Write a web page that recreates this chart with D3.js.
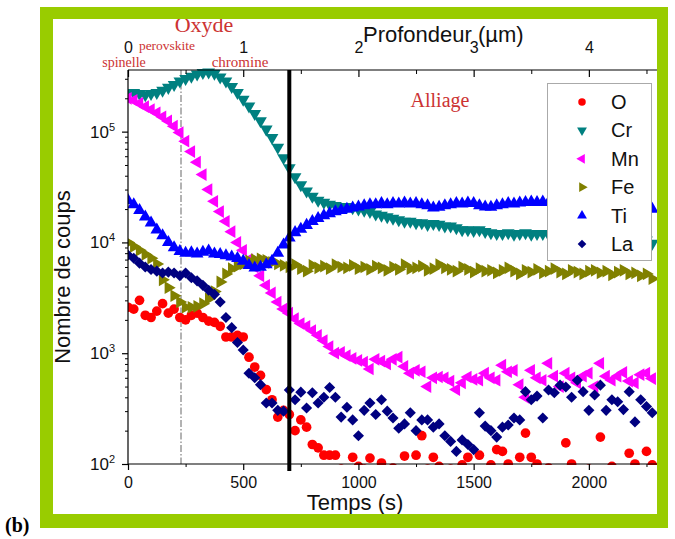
<!DOCTYPE html>
<html><head><meta charset="utf-8">
<script src="https://cdn.jsdelivr.net/npm/d3@7"></script>
<style>body{margin:0;background:#fff}svg{display:block}</style>
</head><body>
<svg id="c" width="675" height="539"></svg>
<script>
const times = [
0,25,50,75,100,125,150,175,200,225,
250,275,300,325,350,375,400,425,450,475,
500,525,550,575,600,625,650,675,700,725,
750,775,800,825,850,875,900,925,950,975,
1000,1025,1050,1075,1100,1125,1150,1175,1200,1225,
1250,1275,1300,1325,1350,1375,1400,1425,1450,1475,
1500,1525,1550,1575,1600,1625,1650,1675,1700,1725,
1750,1775,1800,1825,1850,1875,1900,1925,1950,1975,
2000,2025,2050,2075,2100,2125,2150,2175,2200,2225,
2250,2275];

const O = [
2600,2500,3000,2200,2100,2400,2800,2300,2500,2100,
2000,2200,2300,2100,1950,1900,1750,1400,1400,1450,
1400,920,750,630,470,380,265,305,280,200,
250,215,150,140,120,120,120,90,85,115,
95,90,113,88,102,85,92,80,118,82,
120,180,90,115,95,85,90,88,98,115,
85,120,80,98,135,130,100,85,115,190,
115,100,85,92,80,88,155,100,80,85,
90,80,175,85,95,88,82,125,100,85,
130,98];

const Cr = [
220000,225000,220000,215000,220000,225000,235000,250000,265000,285000,
300000,315000,330000,340000,345000,335000,310000,285000,255000,225000,
195000,170000,145000,125000,105000,88000,72000,58000,47000,39000,
33000,29000,26000,24000,23000,22000,21500,21000,21000,20500,
20000,19500,19000,18000,17500,17000,16500,16000,15500,15500,
15000,15000,14500,14800,14500,14000,14000,13500,13000,13000,
12800,13000,12500,12200,12000,12000,12200,11800,12000,12200,
11800,12000,12000,11800,11500,11800,11500,11300,11500,11200,
11000,11300,11000,10800,11000,10800,10600,10800,10500,10800,
10500,9800];

const Mn = [
200000,192000,180000,168000,158000,148000,136000,125000,112000,98000,
82000,66000,53000,41000,30000,23500,19000,15500,12500,10000,
8500,7000,6000,5000,4100,3500,2900,2500,2300,2050,
1850,1750,1600,1450,1300,1150,1000,1020,950,900,
860,830,720,880,850,800,880,920,760,660,
700,680,500,600,610,600,560,470,540,610,
580,570,660,600,570,780,680,700,520,400,
700,600,570,810,620,500,660,600,540,620,
660,500,810,620,570,620,670,560,540,640,
660,590];

const Fe = [
10000,9200,8500,7800,7200,6400,4600,3900,3300,2900,
2600,2600,2650,2800,3100,3600,4400,5200,5800,6100,
6400,6800,7000,7100,6900,6600,6400,6200,6000,6300,
5800,5500,6200,5900,6100,5800,6300,6000,5900,6200,
5800,6000,5700,6100,5900,5600,6000,5700,6300,5800,
5900,6100,5600,5800,6300,5900,5700,5500,6000,5700,
5400,5800,5500,5600,5300,5600,5900,5500,5200,5600,
5400,5700,5300,5500,5800,5400,5200,5600,5400,5200,
5500,5600,5300,5500,5100,5400,5600,5200,5300,5000,
5200,4700];

const Ti = [
24000,22000,19500,17000,15000,13000,11500,10000,9000,8300,
8000,8100,7900,8200,8400,7900,7800,7600,7400,7200,
6800,6200,5900,6000,6300,6800,8000,9500,11000,12300,
13200,14300,15500,16500,17500,18200,19000,19500,20000,20500,
21000,21500,22000,22000,22500,22000,22500,22300,22800,22300,
22500,22000,21500,20500,20800,21500,22000,22500,22300,22800,
22500,21500,21000,20800,21500,22000,22500,22300,22800,23000,
23200,23000,23300,23000,23000,22800,23000,22700,22500,22700,
22300,22000,22200,21800,21500,21800,21300,21000,21200,20800,
20500,20000];

const La = [
7700,7200,6500,6000,5700,5500,5300,5400,5300,5000,
5300,4800,4500,4100,3700,3400,2900,2100,1700,1250,
1070,660,600,520,355,355,305,300,465,380,
445,320,440,355,400,490,400,265,325,250,
180,305,355,280,380,300,260,210,230,290,
200,250,250,215,230,180,160,130,165,150,
135,290,220,200,175,215,225,260,250,450,
380,410,260,465,440,515,495,400,570,450,
305,420,515,305,380,365,310,450,240,380,
330,290];

const seriesNames = ["O","Cr","Mn","Fe","Ti","La"];
const seriesValues = [O, Cr, Mn, Fe, Ti, La];
const seriesColors = ["#ff0000","#008080","#ff00ff","#808000","#0000ff","#000080"];
const timeTicks = [0,500,1000,1500,2000];
const timeTickLabels = ["0","500","1000","1500","2000"];
const depthTicks = [0,1,2,3,4];
const depthTickLabels = ["0","1","2","3","4"];
const countTicks = [100,1000,10000,100000];
const countTickExp = ["2","3","4","5"];

const svg = d3.select("#c");
const X0 = 128, X1 = 658, YB = 464, YT = 70;
const x = d3.scaleLinear().domain([0,2300]).range([X0,X1]);
const xd = d3.scaleLinear().domain([0,4.6]).range([X0,X1]);
const y = d3.scaleLog().domain([100,360000]).range([YB,YT]);

const sans = "'Liberation Sans', Arial, sans-serif";
const serif = "'Liberation Serif', 'Times New Roman', serif";
const red = "#cc3333";

const shapes = {
  O:  {type: d3.symbolCircle,   size: 74, rot: 0},
  Cr: {type: d3.symbolTriangle, size: 70, rot: 180},
  Mn: {type: d3.symbolTriangle, size: 70, rot: -90},
  Fe: {type: d3.symbolTriangle, size: 70, rot: 90},
  Ti: {type: d3.symbolTriangle, size: 70, rot: 0},
  La: {type: d3.symbolSquare,   size: 62, rot: 45}
};

svg.append("defs").append("clipPath").attr("id","pc")
  .append("rect").attr("x",X0).attr("y",YT-12).attr("width",X1-X0+10).attr("height",YB-YT+13);

svg.append("line").attr("x1",x(230)).attr("x2",x(230)).attr("y1",YT).attr("y2",YB)
  .attr("stroke","#555").attr("stroke-width",0.9).attr("stroke-dasharray","7,2,1.5,2");

const gData = svg.append("g").attr("clip-path","url(#pc)");
seriesNames.forEach((name,si)=>{
  const s = shapes[name];
  const path = d3.symbol().type(s.type).size(s.size)();
  gData.append("g").selectAll("path")
    .data(times.map((t,i)=>({t, v: seriesValues[si][i]})))
    .join("path")
    .attr("d", path)
    .attr("transform", d=>`translate(${x(d.t)},${y(d.v)}) rotate(${s.rot})`)
    .attr("fill", seriesColors[si]);
});

svg.append("line").attr("x1",x(700)).attr("x2",x(700)).attr("y1",YT).attr("y2",YB+7)
  .attr("stroke","#000").attr("stroke-width",4);

const frame = svg.append("g").attr("stroke","#000").attr("stroke-width",1.2);
frame.append("line").attr("x1",X0).attr("x2",X1+5).attr("y1",YT).attr("y2",YT);
frame.append("line").attr("x1",X0).attr("x2",X1+5).attr("y1",YB).attr("y2",YB);
frame.append("line").attr("x1",X0).attr("x2",X0).attr("y1",YT).attr("y2",YB);

const gx = svg.append("g").attr("transform",`translate(0,${YB})`)
  .call(d3.axisBottom(x).tickValues(timeTicks).tickSize(6).tickSizeOuter(0).tickPadding(7)
    .tickFormat((d,i)=>timeTickLabels[i]));
gx.select(".domain").remove();
gx.selectAll("line").attr("stroke-width",1.2);
gx.selectAll("text").attr("font-family",sans).attr("font-size",16).attr("fill","#111");
const gxm = svg.append("g").attr("transform",`translate(0,${YB})`)
  .call(d3.axisBottom(x).tickValues([250,750,1250,1750,2250]).tickSize(3).tickFormat(""));
gxm.select(".domain").remove();

const gt = svg.append("g").attr("transform",`translate(0,${YT})`)
  .call(d3.axisTop(xd).tickValues(depthTicks).tickSize(-7).tickSizeOuter(0).tickPadding(17)
    .tickFormat((d,i)=>depthTickLabels[i]));
gt.select(".domain").remove();
gt.selectAll("line").attr("stroke-width",1.2);
gt.selectAll("text").attr("font-family",sans).attr("font-size",16).attr("fill","#111");
const gtm = svg.append("g").attr("transform",`translate(0,${YT})`)
  .call(d3.axisTop(xd).tickValues([0.5,1.5,2.5,3.5,4.5]).tickSize(-4).tickFormat(""));
gtm.select(".domain").remove();

const gy = svg.append("g").attr("transform",`translate(${X0},0)`)
  .call(d3.axisLeft(y).tickValues(countTicks).tickSize(6).tickSizeOuter(0).tickFormat(""));
gy.select(".domain").remove();
gy.selectAll("line").attr("stroke-width",1.2);
const minor = [];
[100,1000,10000,100000].forEach(b=>{for(let k=2;k<=9;k++){ if(b*k<=360000) minor.push(b*k);} });
const gym = svg.append("g").attr("transform",`translate(${X0},0)`)
  .call(d3.axisLeft(y).tickValues(minor).tickSize(3).tickFormat(""));
gym.select(".domain").remove();
countTicks.forEach((v,i)=>{
  const t = svg.append("text").attr("x",X0-13).attr("y",y(v)+6).attr("text-anchor","end")
    .attr("font-family",sans).attr("font-size",17).attr("fill","#111");
  t.append("tspan").text("10");
  t.append("tspan").attr("dy",-7).attr("font-size",11).text(countTickExp[i]);
});

svg.append("text").attr("transform","translate(70,277) rotate(-90)").attr("text-anchor","middle")
  .attr("font-family",sans).attr("font-size",22).attr("fill","#111").text("Nombre de coups");
svg.append("text").attr("x",355).attr("y",510).attr("text-anchor","middle")
  .attr("font-family",sans).attr("font-size",22).attr("fill","#111").text("Temps (s)");
svg.append("text").attr("x",363).attr("y",42).attr("text-anchor","start")
  .attr("font-family",sans).attr("font-size",22).attr("fill","#111").text("Profondeur (µm)");

svg.append("text").attr("x",204).attr("y",32).attr("text-anchor","middle")
  .attr("font-family",serif).attr("font-size",22).attr("fill",red).text("Oxyde");
svg.append("text").attr("x",167).attr("y",50).attr("text-anchor","middle")
  .attr("font-family",serif).attr("font-size",13.5).attr("fill",red).text("perovskite");
svg.append("text").attr("x",124).attr("y",67).attr("text-anchor","middle")
  .attr("font-family",serif).attr("font-size",14).attr("fill",red).text("spinelle");
svg.append("text").attr("x",240).attr("y",67).attr("text-anchor","middle")
  .attr("font-family",serif).attr("font-size",15).attr("fill",red).text("chromine");
svg.append("text").attr("x",440).attr("y",107).attr("text-anchor","middle")
  .attr("font-family",serif).attr("font-size",20).attr("fill",red).text("Alliage");

const lg = svg.append("g");
lg.append("rect").attr("x",547.5).attr("y",83.5).attr("width",104).attr("height",177)
  .attr("fill","#fff").attr("stroke","#aaa").attr("stroke-width",1);
seriesNames.forEach((name,i)=>{
  const cy = 102 + i*28.4;
  const s = shapes[name];
  lg.append("path").attr("d", d3.symbol().type(s.type).size(s.size*0.6)())
    .attr("transform",`translate(582,${cy}) rotate(${s.rot})`).attr("fill",seriesColors[i]);
  lg.append("text").attr("x",611).attr("y",cy+7).attr("font-family",sans).attr("font-size",20)
    .attr("fill","#111").text(name);
});

const green = "#99cc00";
svg.append("rect").attr("x",40).attr("y",7).attr("width",13).attr("height",521).attr("fill",green);
svg.append("rect").attr("x",657).attr("y",7).attr("width",11).attr("height",521).attr("fill",green);
svg.append("rect").attr("x",40).attr("y",7).attr("width",628).attr("height",12).attr("fill",green);
svg.append("rect").attr("x",40).attr("y",514).attr("width",628).attr("height",14).attr("fill",green);

svg.append("text").attr("x",5).attr("y",532).attr("font-family",serif).attr("font-weight","bold")
  .attr("font-size",20).attr("fill","#000").text("(b)");
</script>
</body></html>
